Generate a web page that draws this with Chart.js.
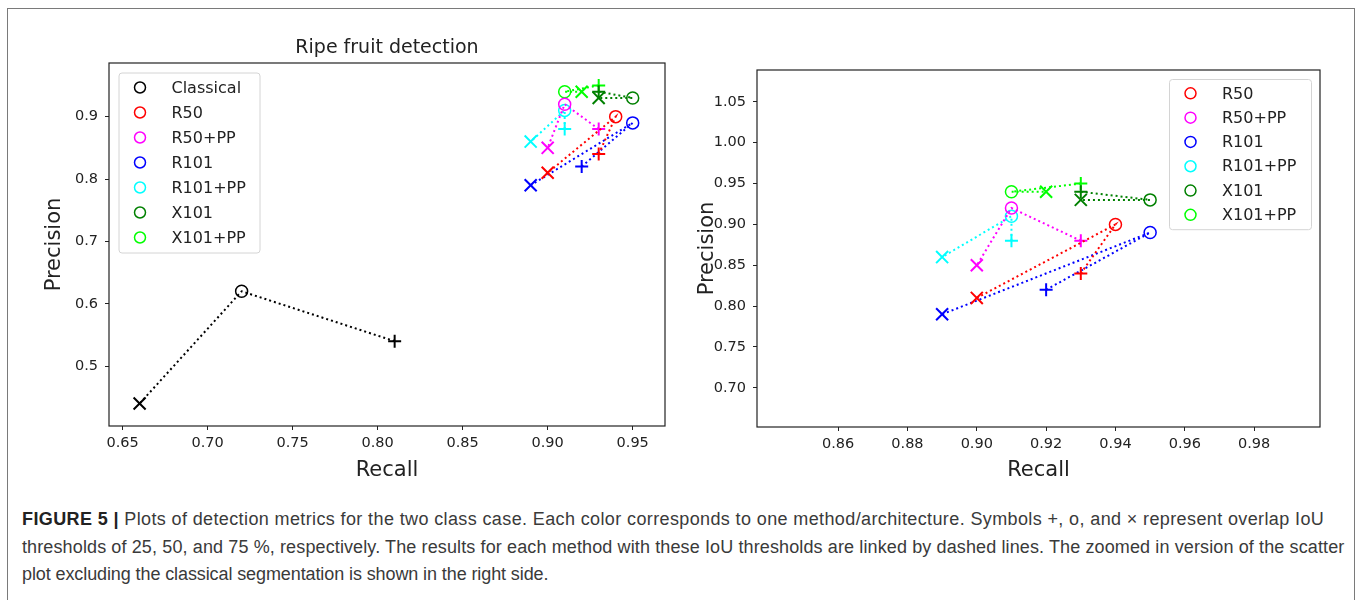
<!DOCTYPE html>
<html>
<head>
<meta charset="utf-8">
<script src="https://cdn.jsdelivr.net/npm/chart.js@4.4.0/dist/chart.umd.min.js"></script>
<style>
  body { margin: 0; background: #fff; width: 1358px; height: 600px; overflow: hidden; position: relative; }
  #frame { position: absolute; left: 7px; top: 8px; width: 1346px; height: 640px; border: 1.5px solid #7a7a7a; }
  .plot { position: absolute; top: 0; }
  #leftWrap { left: 0; width: 680px; height: 490px; }
  #rightWrap { left: 680px; width: 660px; height: 490px; }
  #caption { position: absolute; left: 22px; top: 506px; white-space: nowrap;
             font: 18px "Liberation Sans", Arial, sans-serif; line-height: 27.5px; color: #3a3a3a; }
  #caption b { color: #222; }
  #caption div { height: 27.5px; }
</style>
</head>
<body>
<div id="frame"></div>
<div class="plot" id="leftWrap"><canvas id="leftChart" width="680" height="490"></canvas></div>
<div class="plot" id="rightWrap"><canvas id="rightChart" width="660" height="490"></canvas></div>
<div id="caption">
  <div style="letter-spacing: 0.38px"><b>FIGURE 5 |</b> Plots of detection metrics for the two class case. Each color corresponds to one method/architecture. Symbols +, o, and × represent overlap IoU</div>
  <div style="letter-spacing: 0.12px">thresholds of 25, 50, and 75 %, respectively. The results for each method with these IoU thresholds are linked by dashed lines. The zoomed in version of the scatter</div>
  <div style="letter-spacing: -0.1px">plot excluding the classical segmentation is shown in the right side.</div>
</div>
<script>
// order of points in every series: IoU 25 (+), IoU 50 (o), IoU 75 (x)
const methods = ['Classical', 'R50', 'R50+PP', 'R101', 'R101+PP', 'X101', 'X101+PP'];
const methodColors = ['black', 'red', 'magenta', 'blue', 'cyan', 'green', 'lime'];

const classicalRecall = [0.81, 0.72, 0.66];
const classicalPrecision = [0.54, 0.62, 0.44];
const r50Recall = [0.93, 0.94, 0.90];
const r50Precision = [0.84, 0.90, 0.81];
const r50ppRecall = [0.93, 0.91, 0.90];
const r50ppPrecision = [0.88, 0.92, 0.85];
const r101Recall = [0.92, 0.95, 0.89];
const r101Precision = [0.82, 0.89, 0.79];
const r101ppRecall = [0.91, 0.91, 0.89];
const r101ppPrecision = [0.88, 0.91, 0.86];
const x101Recall = [0.93, 0.95, 0.93];
const x101Precision = [0.94, 0.93, 0.93];
const x101ppRecall = [0.93, 0.91, 0.92];
const x101ppPrecision = [0.95, 0.94, 0.94];

const recallSets = [classicalRecall, r50Recall, r50ppRecall, r101Recall, r101ppRecall, x101Recall, x101ppRecall];
const precisionSets = [classicalPrecision, r50Precision, r50ppPrecision, r101Precision, r101ppPrecision, x101Precision, x101ppPrecision];

const leftXTicks = [0.65, 0.70, 0.75, 0.80, 0.85, 0.90, 0.95];
const leftYTicks = [0.5, 0.6, 0.7, 0.8, 0.9];
const rightXTicks = [0.86, 0.88, 0.90, 0.92, 0.94, 0.96, 0.98];
const rightYTicks = [0.70, 0.75, 0.80, 0.85, 0.90, 0.95, 1.00, 1.05];

const TEXT = '#222';
const FONT = "'DejaVu Sans', sans-serif";

function makeDataset(i) {
    return {
        label: methods[i],
        data: recallSets[i].map((r, k) => ({x: r, y: precisionSets[i][k]})),
        showLine: true,
        borderColor: methodColors[i],
        borderWidth: 2,
        borderDash: [2, 3],
        pointStyle: ['cross', 'circle', 'crossRot'],
        pointRadius: [6.5, 6, 8.5],
        pointBorderWidth: [2, 1.5, 2],
        pointBorderColor: methodColors[i],
        pointBackgroundColor: 'rgba(0,0,0,0)'
    };
}

// box around the whole plotting area, like matplotlib spines
const frameBox = {
    id: 'frameBox',
    afterDatasetsDraw(chart) {
        const {ctx, chartArea: a} = chart;
        ctx.save();
        ctx.strokeStyle = TEXT;
        ctx.lineWidth = 1.2;
        ctx.strokeRect(a.left, a.top, a.right - a.left, a.bottom - a.top);
        ctx.restore();
    }
};

// legend drawn inside the plot area
const innerLegend = {
    id: 'innerLegend',
    afterDraw(chart, args, opts) {
        const {ctx, chartArea: a} = chart;
        const sets = chart.data.datasets;
        const w = opts.width;
        const h = opts.rowHeight * sets.length + opts.padY * 2;
        const x0 = opts.side === 'right' ? a.right - opts.offset - w : a.left + opts.offset;
        const y0 = a.top + opts.offset;
        ctx.save();
        ctx.beginPath();
        ctx.roundRect(x0 + 0.5, y0 + 0.5, w, h, 3);
        ctx.fillStyle = 'rgba(255,255,255,0.8)';
        ctx.fill();
        ctx.strokeStyle = '#d4d4d4';
        ctx.lineWidth = 1;
        ctx.stroke();
        ctx.font = `16px ${FONT}`;
        ctx.textBaseline = 'middle';
        sets.forEach((ds, i) => {
            const cy = y0 + opts.padY + opts.rowHeight * (i + 0.5);
            ctx.beginPath();
            ctx.arc(x0 + 21.5, cy, 5.5, 0, Math.PI * 2);
            ctx.strokeStyle = ds.borderColor;
            ctx.lineWidth = 1.5;
            ctx.stroke();
            ctx.fillStyle = TEXT;
            ctx.fillText(ds.label, x0 + 53, cy + 1);
        });
        ctx.restore();
    }
};

function axis(min, max, ticks, digits, title, fitSize, titlePad, horizontal) {
    return {
        type: 'linear',
        min: min,
        max: max,
        afterBuildTicks: s => { s.ticks = ticks.map(v => ({value: v})); },
        afterFit: s => { if (horizontal) s.height = fitSize; else s.width = fitSize; },
        grid: {drawOnChartArea: false, drawTicks: true, tickLength: 4, tickColor: TEXT},
        border: {display: false},
        ticks: {
            color: TEXT,
            font: {family: FONT, size: 14.5},
            padding: horizontal ? 5 : 7,
            maxRotation: 0,
            autoSkip: false,
            callback: v => v.toFixed(digits)
        },
        title: {
            display: true,
            text: title,
            color: TEXT,
            font: {family: FONT, size: 21},
            padding: titlePad
        }
    };
}

function initLeft() {
    const ctx = document.getElementById('leftChart').getContext('2d');
    new Chart(ctx, {
        type: 'scatter',
        data: {datasets: methods.map((m, i) => makeDataset(i))},
        options: {
            responsive: false,
            animation: false,
            events: [],
            layout: {padding: {left: 0, right: 15, top: 0, bottom: 0}},
            scales: {
                x: axis(0.642, 0.969, leftXTicks, 2, 'Recall', 64, {top: 0, bottom: 6.4}, true),
                y: axis(0.404, 0.986, leftYTicks, 1, 'Precision', 109, {top: 42.4, bottom: 0}, false)
            },
            plugins: {
                legend: {display: false},
                tooltip: {enabled: false},
                title: {
                    display: true,
                    fullSize: false,
                    text: 'Ripe fruit detection',
                    color: TEXT,
                    font: {family: FONT, size: 19, weight: 'normal'},
                    padding: {top: 37, bottom: 3.2}
                },
                innerLegend: {side: 'left', offset: 9.5, width: 141, rowHeight: 25, padY: 2.5}
            }
        },
        plugins: [frameBox, innerLegend]
    });
}

function initRight() {
    const ctx = document.getElementById('rightChart').getContext('2d');
    new Chart(ctx, {
        type: 'scatter',
        data: {datasets: methods.slice(1).map((m, i) => makeDataset(i + 1))},
        options: {
            responsive: false,
            animation: false,
            events: [],
            layout: {padding: {left: 0, right: 20, top: 70, bottom: 0}},
            scales: {
                x: axis(0.8366, 0.999, rightXTicks, 2, 'Recall', 63, {top: 0, bottom: 6.4}, true),
                y: axis(0.652, 1.089, rightYTicks, 2, 'Precision', 77, {top: 15.4, bottom: 0}, false)
            },
            plugins: {
                legend: {display: false},
                tooltip: {enabled: false},
                innerLegend: {side: 'right', offset: 9, width: 142, rowHeight: 24.3, padY: 2.2}
            }
        },
        plugins: [frameBox, innerLegend]
    });
}

initLeft();
initRight();
</script>
</body>
</html>
